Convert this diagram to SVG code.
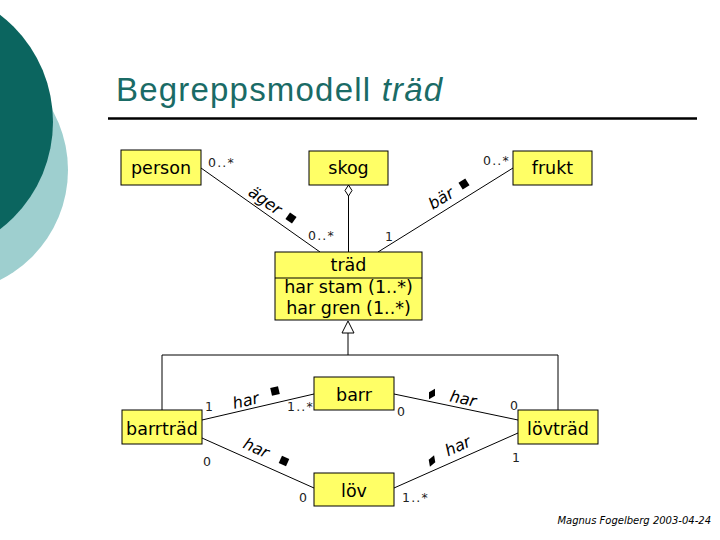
<svg xmlns="http://www.w3.org/2000/svg" width="720" height="540" viewBox="0 0 720 540">
<style>
.node rect{fill:#FFFF66;stroke:#000;stroke-width:1}
.nt{font-family:"DejaVu Sans",Verdana,sans-serif;font-size:17.5px;fill:#000;text-anchor:middle}
.m{font-family:"DejaVu Sans",Verdana,sans-serif;font-size:12.5px;fill:#222;letter-spacing:1.2px}
.an{font-family:"DejaVu Sans",Verdana,sans-serif;font-size:16px;font-style:italic;fill:#000;text-anchor:middle}
.ln{stroke:#000;stroke-width:1;fill:none}
</style>
<rect width="720" height="540" fill="#fff"/>
<g id="background">
<circle cx="-55" cy="170" r="123" fill="#9ECFCF"/>
<circle cx="-82" cy="122" r="135" fill="#0B655F"/>
</g>
<g id="title">
<text x="116" y="101" font-family="'Liberation Sans',Arial,sans-serif" font-size="33" letter-spacing="1.2" fill="#1A6B66">Begreppsmodell <tspan font-style="italic">träd</tspan></text>
<line x1="108" y1="118.5" x2="697" y2="118.5" stroke="#000" stroke-width="2.5"/>
</g>
<g id="connectors">
<line class="ln" x1="201" y1="168" x2="320" y2="252"/>
<line class="ln" x1="348.5" y1="196" x2="348.5" y2="252"/>
<polygon points="348.5,185 352,190.5 348.5,196 345,190.5" fill="#fff" stroke="#000" stroke-width="1"/>
<line class="ln" x1="513" y1="168" x2="378" y2="252"/>
<polygon points="348,321 354,333 342,333" fill="#fff" stroke="#000" stroke-width="1"/>
<polyline class="ln" points="348,333 348,355"/>
<polyline class="ln" points="162,410 162,355 558,355 558,410"/>
<line class="ln" x1="202" y1="420" x2="314" y2="394"/>
<line class="ln" x1="202" y1="438" x2="314" y2="488"/>
<line class="ln" x1="394" y1="394" x2="518" y2="420"/>
<line class="ln" x1="394" y1="488" x2="518" y2="433"/>
<text class="m" x="208" y="167">0..*</text>
<text class="m" x="308" y="240">0..*</text>
<text class="m" x="385" y="241">1</text>
<text class="m" x="483" y="165">0..*</text>
<text class="m" x="205" y="411">1</text>
<text class="m" x="287" y="411">1..*</text>
<text class="m" x="397" y="416">0</text>
<text class="m" x="510" y="410">0</text>
<text class="m" x="203" y="466">0</text>
<text class="m" x="299" y="502">0</text>
<text class="m" x="402" y="502">1..*</text>
<text class="m" x="512" y="462">1</text>
<text class="an" transform="translate(262,205) rotate(35.2)">äger</text>
<rect x="-4" y="-4" width="8" height="8" transform="translate(291,218) rotate(35)" fill="#000"/>
<text class="an" transform="translate(444,203) rotate(-31.9)">bär</text>
<rect x="-4" y="-4" width="8" height="8" transform="translate(464,184) rotate(-32)" fill="#000"/>
<text class="an" transform="translate(247,406) rotate(-13.2)">har</text>
<rect x="-4" y="-4" width="8" height="8" transform="translate(275,391) rotate(-13)" fill="#000"/>
<text class="an" transform="translate(254,453) rotate(24.3)">har</text>
<rect x="-4" y="-4" width="8" height="8" transform="translate(284,461) rotate(24)" fill="#000"/>
<text class="an" transform="translate(462,404) rotate(11.9)">har</text>
<polygon points="0,-6 3.5,0 0,6 -3.5,0" transform="translate(432,394) rotate(30)" fill="#000"/>
<text class="an" transform="translate(460,451) rotate(-24.1)">har</text>
<polygon points="0,-6 3.5,0 0,6 -3.5,0" transform="translate(432,461) rotate(20)" fill="#000"/>
</g>
<g id="person" class="node"><rect x="121" y="150" width="80" height="35"/><text class="nt" x="161" y="174">person</text></g>
<g id="skog" class="node"><rect x="309" y="151" width="79" height="34"/><text class="nt" x="348.5" y="174">skog</text></g>
<g id="frukt" class="node"><rect x="513" y="151" width="79" height="34"/><text class="nt" x="552.5" y="174">frukt</text></g>
<g id="trad" class="node"><rect x="275" y="252" width="147" height="68"/><line x1="275" y1="278" x2="422" y2="278" stroke="#000" stroke-width="1"/><text class="nt" x="348.5" y="271">träd</text><text class="nt" x="348.5" y="293">har stam (1..*)</text><text class="nt" x="348.5" y="314">har gren (1..*)</text></g>
<g id="barrtrad" class="node"><rect x="122" y="410" width="80" height="34"/><text class="nt" x="162" y="435">barrträd</text></g>
<g id="barr" class="node"><rect x="314" y="377" width="80" height="33"/><text class="nt" x="354" y="401">barr</text></g>
<g id="lov" class="node"><rect x="314" y="473" width="80" height="33"/><text class="nt" x="354" y="497">löv</text></g>
<g id="lovtrad" class="node"><rect x="518" y="410" width="80" height="34"/><text class="nt" x="558" y="435">lövträd</text></g>
<text x="711" y="524" font-family="'DejaVu Sans',Verdana,sans-serif" font-size="10" font-style="italic" text-anchor="end" fill="#000">Magnus Fogelberg 2003-04-24</text>
</svg>
